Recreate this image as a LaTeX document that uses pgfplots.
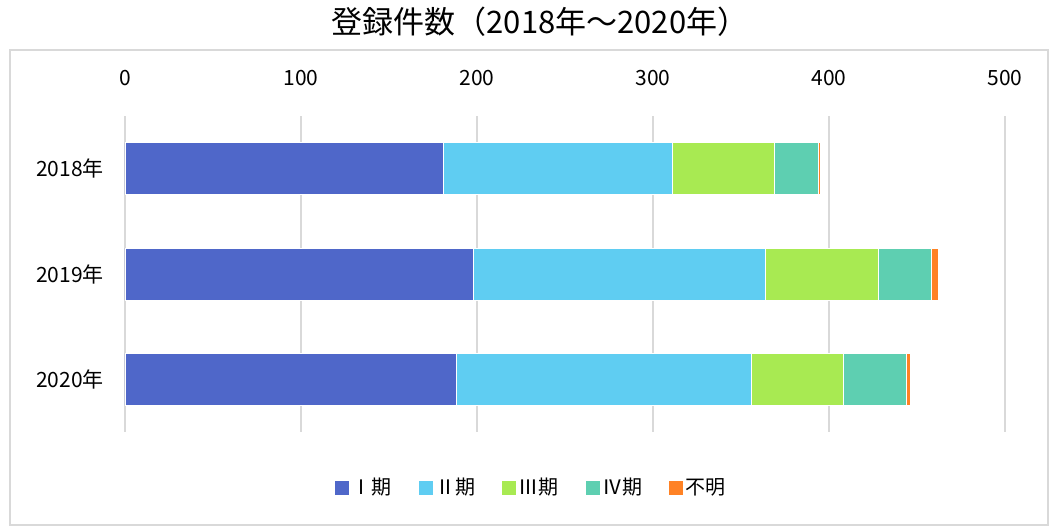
\documentclass[border=0pt]{standalone}
\usepackage{pgfplots}
\pgfplotsset{compat=1.18}
\usepackage{fontspec}
\setmainfont{Noto Sans CJK JP}
\definecolor{cI}{HTML}{4F67C9}
\definecolor{cII}{HTML}{5FCDF2}
\definecolor{cIII}{HTML}{A8EA52}
\definecolor{cIV}{HTML}{5ECFB1}
\definecolor{cU}{HTML}{FF8225}
\definecolor{gridc}{HTML}{D9D9D9}
\newcommand{\lb}[1]{\makebox[52pt][l]{#1}}
\begin{document}
\begin{tikzpicture}
\useasboundingbox (0pt,0pt) rectangle (1058pt,-526pt);
\draw[gridc, line width=1.2pt] (10pt,-50pt) rectangle (1048pt,-525pt);
\node[font=\fontsize{31}{34}\selectfont] at (540pt,-22pt) {登録件数（2018年～2020年）};
\begin{axis}[
  at={(125pt,-432pt)}, anchor=south west,
  scale only axis, width=880pt, height=316pt,
  xbar stacked, bar width=52pt,
  xmin=0, xmax=500, ymin=-0.5, ymax=2.5,
  y dir=reverse,
  xtick={0,100,200,300,400,500},
  ytick={0,1,2}, yticklabels={2018年,2019年,2020年},
  xticklabel pos=upper,
  axis line style={draw=none},
  major tick length=0pt,
  xmajorgrids, grid style={gridc, line width=1.5pt},
  /pgf/number format/assume math mode=true,
  tick label style={font=\fontsize{21}{24}\selectfont},
  xticklabel style={anchor=center, yshift=38pt},
  yticklabel style={anchor=east, inner sep=0pt, xshift=-21pt},
  legend columns=5,
  legend style={draw=none, at={(0.468,-0.175)}, anchor=center, font=\fontsize{20}{22}\selectfont, /tikz/every even column/.append style={column sep=12pt}},
  legend image code/.code={\fill[#1] (0pt,-7.5pt) rectangle (15pt,7.5pt);},
  every axis plot/.append style={draw=white, line width=0.5pt},
]
\addplot[fill=cI] coordinates {(181,0) (198,1) (188,2)};
\addplot[fill=cII] coordinates {(130,0) (166,1) (168,2)};
\addplot[fill=cIII] coordinates {(58,0) (64,1) (52,2)};
\addplot[fill=cIV] coordinates {(25,0) (30,1) (36,2)};
\addplot[fill=cU] coordinates {(1,0) (4,1) (2,2)};
\legend{\lb{Ⅰ期},\lb{Ⅱ期},\lb{Ⅲ期},\lb{Ⅳ期},\lb{不明}}
\end{axis}
\end{tikzpicture}
\end{document}
